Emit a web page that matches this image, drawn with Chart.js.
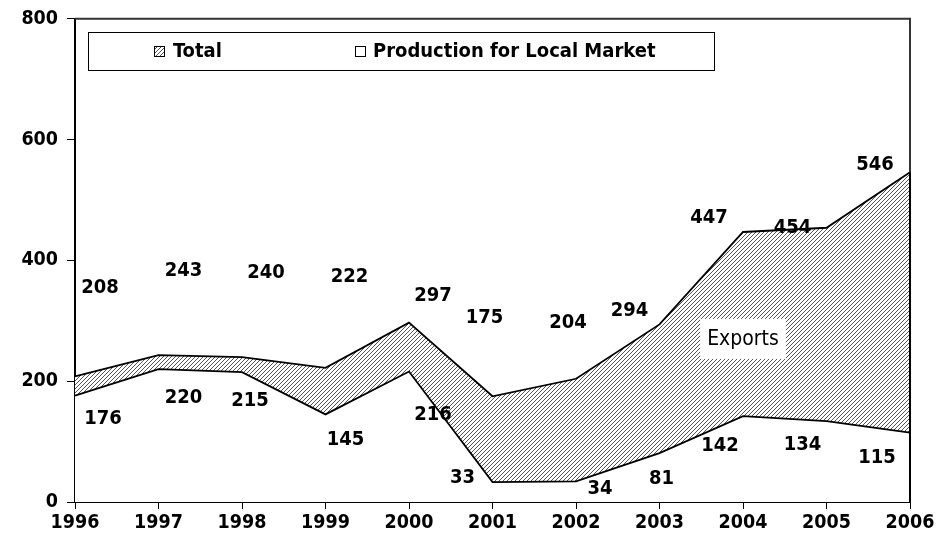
<!DOCTYPE html>
<html>
<head>
<meta charset="utf-8">
<script src="https://cdn.jsdelivr.net/npm/chart.js@4.4.0/dist/chart.umd.min.js"></script>
<style>
    html, body { margin: 0; padding: 0; background: #fff; }
    #wrap { width: 952px; height: 544px; }
</style>
</head>
<body>
<div id="wrap"><canvas id="chart"></canvas></div>
<script>
// Data
const years = ['1996', '1997', '1998', '1999', '2000', '2001', '2002', '2003', '2004', '2005', '2006'];
const totalValues = [208, 243, 240, 222, 297, 175, 204, 294, 447, 454, 546];
const localValues = [176, 220, 215, 145, 216, 33, 34, 81, 142, 134, 115];
const yTicks = [0, 200, 400, 600, 800];
const exportsNote = { text: 'Exports', index: 8, value: 270 };

// Manual label placement (pixel offsets from each point, as in the original)
const totalLabelOffsets = [[25, -89], [25, -84], [24, -84], [24, -91], [24, -27], [-8, -78], [-8, -56], [-30, -14], [-34, -14], [-34, 0], [-35, -7]];
const localLabelOffsets = [[28, 23], [25, 29], [8, 29], [20, 25], [24, 43], [-30, -4], [24, 7], [2, 26], [-23, 30], [-24, 24], [-33, 25]];

const FONT = '"DejaVu Sans Condensed", "DejaVu Sans", Verdana, sans-serif';

/**
 * Diagonal hatch pattern used for the Total area
 */
function makeHatch(ctx) {
    const c = document.createElement('canvas');
    c.width = 4;
    c.height = 4;
    const g = c.getContext('2d');
    g.fillStyle = '#fff';
    g.fillRect(0, 0, 4, 4);
    g.strokeStyle = '#555';
    g.lineWidth = 1;
    g.beginPath();
    g.moveTo(0, 4); g.lineTo(4, 0);
    g.moveTo(-1, 1); g.lineTo(1, -1);
    g.moveTo(3, 5); g.lineTo(5, 3);
    g.stroke();
    return ctx.createPattern(c, 'repeat');
}

const canvas = document.getElementById('chart');
const ctx = canvas.getContext('2d');
const hatch = makeHatch(ctx);

// Data labels placed next to each point
const valueLabels = {
    id: 'valueLabels',
    afterDatasetsDraw(chart) {
        const c = chart.ctx;
        const x = chart.scales.x;
        const y = chart.scales.y;
        c.save();
        c.font = 'bold 20px ' + FONT;
        c.fillStyle = '#000';
        c.textAlign = 'center';
        c.textBaseline = 'middle';
        totalValues.forEach((v, i) => {
            const o = totalLabelOffsets[i];
            c.fillText(String(v), x.getPixelForValue(i) + o[0], y.getPixelForValue(v) + o[1]);
        });
        localValues.forEach((v, i) => {
            const o = localLabelOffsets[i];
            c.fillText(String(v), x.getPixelForValue(i) + o[0], y.getPixelForValue(v) + o[1]);
        });
        c.restore();
    }
};

// Plot frame, right edge of the areas + the "Exports" note
const extras = {
    id: 'extras',
    afterDatasetsDraw(chart) {
        const c = chart.ctx;
        const x = chart.scales.x;
        const y = chart.scales.y;
        const a = chart.chartArea;
        const last = years.length - 1;
        c.save();
        c.strokeStyle = '#333';
        c.lineWidth = 2;
        c.beginPath();
        c.moveTo(a.left, a.top);
        c.lineTo(a.right, a.top);
        c.lineTo(a.right, a.bottom);
        c.stroke();

        c.strokeStyle = '#000';
        c.beginPath();
        c.moveTo(x.getPixelForValue(last), y.getPixelForValue(totalValues[last]));
        c.lineTo(x.getPixelForValue(last), y.getPixelForValue(0));
        c.stroke();

        const px = x.getPixelForValue(exportsNote.index);
        const py = y.getPixelForValue(exportsNote.value);
        c.font = '21px ' + FONT;
        const w = c.measureText(exportsNote.text).width + 14;
        c.fillStyle = '#fff';
        c.fillRect(px - w / 2, py - 20, w, 40);
        c.fillStyle = '#000';
        c.textAlign = 'center';
        c.textBaseline = 'middle';
        c.fillText(exportsNote.text, px, py + 1);
        c.restore();
    }
};

// Boxed legend drawn inside the plot area
const boxLegend = {
    id: 'boxLegend',
    afterDraw(chart) {
        const c = chart.ctx;
        c.save();
        c.fillStyle = '#fff';
        c.fillRect(88, 32, 626, 38);
        c.strokeStyle = '#000';
        c.lineWidth = 1;
        c.strokeRect(88.5, 32.5, 626, 38);

        c.font = 'bold 20px ' + FONT;
        c.textBaseline = 'middle';
        c.textAlign = 'left';
        const items = [
            { label: chart.data.datasets[1].label, fill: hatch, sx: 154, tx: 173 },
            { label: chart.data.datasets[0].label, fill: '#fff', sx: 355, tx: 373 }
        ];
        items.forEach(it => {
            c.fillStyle = it.fill;
            c.fillRect(it.sx, 46, 10, 10);
            c.strokeStyle = '#000';
            c.strokeRect(it.sx + 0.5, 46.5, 10, 10);
            c.fillStyle = '#000';
            c.fillText(it.label, it.tx, 52);
        });
        c.restore();
    }
};

new Chart(ctx, {
    type: 'line',
    data: {
        labels: years,
        datasets: [
            {
                label: 'Production for Local Market',
                data: localValues,
                fill: 'origin',
                backgroundColor: '#fff',
                borderColor: '#000',
                borderWidth: 1.8,
                pointRadius: 0,
                tension: 0
            },
            {
                label: 'Total',
                data: totalValues,
                fill: 'origin',
                backgroundColor: hatch,
                borderColor: '#000',
                borderWidth: 1.8,
                pointRadius: 0,
                tension: 0
            }
        ]
    },
    options: {
        responsive: true,
        maintainAspectRatio: false,
        animation: false,
        layout: {
            padding: { top: 4, right: 42, left: 0, bottom: 0 }
        },
        scales: {
            x: {
                type: 'category',
                offset: false,
                grid: {
                    display: true,
                    drawOnChartArea: false,
                    drawTicks: true,
                    tickLength: 7,
                    color: '#000'
                },
                border: { display: true, color: '#000', width: 2 },
                ticks: {
                    color: '#000',
                    font: { family: FONT, size: 19.5, weight: 'bold' },
                    maxRotation: 0,
                    autoSkip: false,
                    padding: 2
                },
                afterFit: s => { s.height = 42; }
            },
            y: {
                min: 0,
                max: 800,
                afterBuildTicks: s => { s.ticks = yTicks.map(v => ({ value: v })); },
                grid: {
                    display: true,
                    drawOnChartArea: false,
                    drawTicks: true,
                    tickLength: 8,
                    color: '#000'
                },
                border: { display: true, color: '#000', width: 2 },
                ticks: {
                    color: '#000',
                    font: { family: FONT, size: 19.5, weight: 'bold', lineHeight: 1 },
                    padding: 9
                },
                afterFit: s => { s.width = 75; }
            }
        },
        plugins: {
            legend: { display: false },
            tooltip: { enabled: false }
        }
    },
    plugins: [valueLabels, extras, boxLegend]
});
</script>
</body>
</html>
